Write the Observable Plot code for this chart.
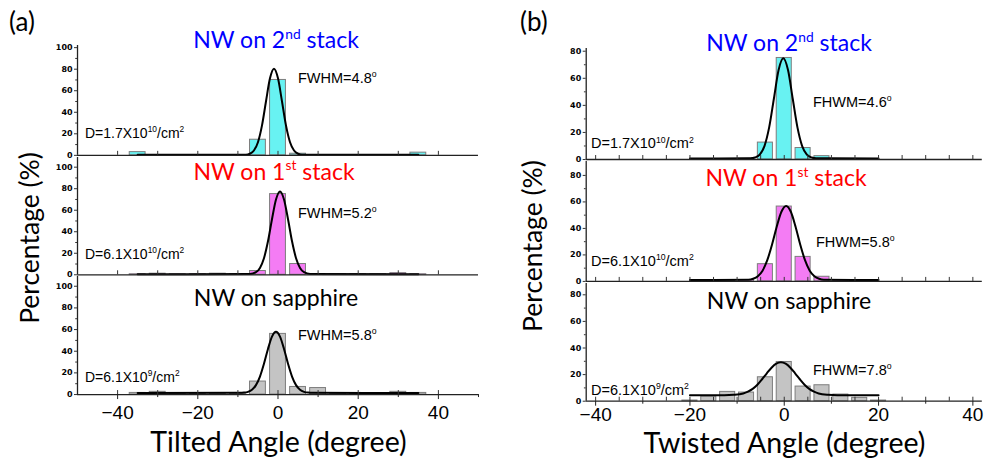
<!DOCTYPE html>
<html><head><meta charset="utf-8">
<script src="https://cdn.jsdelivr.net/npm/d3@7"></script>
<script src="https://cdn.jsdelivr.net/npm/@observablehq/plot@0.6"></script>
<style>
html,body{margin:0;padding:0;background:#fff;}
#chart{position:relative;width:984px;height:471px;overflow:hidden;background:#fff;}
</style></head><body><div id="chart"></div>
<script>
// ---------- data: tilted angle histograms (panel a), bins of 5 degrees ----------
const tiltCenters   = [-35,-30,-25,-20,-15,-10,-5,0,5,10,15,20,25,30,35];
const tilt2nd       = [3,0,0,0,0,0,14.5,70,1.5,0,0,0,0,0,2.5];
const tilt1st       = [0.5,1,0.5,0.5,1,0.5,3.5,75,10,0.5,0.5,0.5,0.5,1.5,0.5];
const tiltSapphire  = [1.5,2.5,1,1,1,1,12,56,7,6,1,1,1,2.5,1.5];

// ---------- data: twisted angle histograms (panel b), bins of 4 degrees ----------
const twistCenters  = [-20,-16,-12,-8,-4,0,4,8,12,16,20];
const twist2nd      = [0,0,0,0.5,12.5,75,8.5,2.5,0,0,0];
const twist1st      = [0,0.5,0.5,1,13,56.5,18.5,3.5,1,0.5,0];
const twistSapphire = [0.5,3.5,7,6.5,18,29.5,11,12,5,2.5,0.5];

// ---------- fitted curves ----------
const tiltFit2ndX = [-35,-8,-7,-6,-5,-4,-3,-2,-1,0,1,2,3,4,5,6,35];
const tiltFit2ndY = [0.5,0.6,1.5,4.5,12.2,27.6,50,71.5,80.5,71.5,50,27.6,12.2,4.5,1.5,0.6,0.5];
const tiltFit1stX = [-35,-7,-5.5,-4.5,-3.5,-2.5,-1.5,-0.5,0.5,1.5,2.5,3.5,4.5,5.5,6.5,8,35];
const tiltFit1stY = [0.5,0.8,2.4,6.4,15.4,31.1,51.6,70,77.5,70,51.6,31.1,15.4,6.4,2.4,0.8,0.5];
const tiltFitSapX = [-35,-9.5,-8.5,-7.5,-6.5,-5.5,-4.5,-3.5,-2.5,-1.5,-0.5,0.5,1.5,2.5,3.5,4.5,5.5,6.5,7.5,8.5,35];
const tiltFitSapY = [1.5,1.6,1.8,2.5,4.4,8.7,16.6,28.4,42.1,53.5,58,53.5,42.1,28.4,16.6,8.7,4.4,2.5,1.8,1.6,1.5];

const twistFit2ndX = [-20,-7.2,-6.2,-5.2,-4.2,-3.2,-2.2,-1.2,-0.2,0.8,1.8,2.8,3.8,4.8,5.8,6.8,20];
const twistFit2ndY = [0.8,0.9,1.5,3.6,9.9,23.7,44.9,66.1,74.8,66.1,44.9,23.7,9.9,3.6,1.5,0.9,0.8];
const twistFit1stX = [-20,-7.6,-6.6,-5.6,-4.6,-3.6,-2.6,-1.6,-0.6,0.4,1.4,2.4,3.4,4.4,5.4,6.4,7.4,8.4,20];
const twistFit1stY = [1,1.3,2,3.9,8.1,16,27.7,41.3,52.6,57,52.6,41.3,27.7,16,8.1,3.9,2,1.3,1];
const twistFitSapX = [-20,-12.7,-10.7,-8.7,-7.7,-6.7,-5.7,-4.7,-3.7,-2.7,-1.7,-0.7,0.3,1.3,2.3,3.3,4.3,5.3,6.3,7.3,9.3,11.3,20];
const twistFitSapY = [4.5,4.5,4.8,5.8,7.2,9.3,12.4,16.5,21,25.2,28.2,29.3,28.2,25.2,21,16.5,12.4,9.3,7.2,5.8,4.8,4.5,4.5];

// ---------- tick values ----------
const tiltXLabels = [-40,-20,0,20,40];
const tiltXMinor  = [-30,-10,10,30,50];
const tiltXInner  = [-40,-30,-20,-10,0,10,20,30,40];
const twistXLabels = [-40,-20,0,20,40];
const twistXMinor  = [-30,-10,10,30];
const twistXInner  = [-40,-35,-30,-25,-20,-15,-10,-5,0,5,10,15,20,25,30,35,40];
const tiltYMajor = [0,20,40,60,80,100];
const tiltYMinor = [10,30,50,70,90];
const twistYMajor = [0,20,40,60,80];
const twistYMinor = [10,30,50,70];

const zip = (xs, ys) => xs.map((x, i) => ({x, v: ys[i]}));
const zipFit = (xs, ys) => xs.map((x, i) => ({x, y: ys[i]}));

const chart = document.getElementById("chart");
const ARIAL = "'Liberation Sans', Arial, sans-serif";

function subplot(cfg) {
  const mT = 8, mB = cfg.bottomAxis ? 45 : 4;
  const frameH = cfg.yMax * cfg.ppu;
  const height = mT + frameH + mB;
  const top = cfg.zeroY - frameH - mT;
  const half = cfg.barHalf, inset = cfg.inset;
  const marks = [
    Plot.rect(cfg.bars, {x1: d => d.x - half, x2: d => d.x + half, y1: 0, y2: "v",
      fill: cfg.fill, stroke: "#7d7d7d", strokeWidth: 1, insetLeft: inset, insetRight: inset}),
    Plot.line(cfg.fit, {x: "x", y: "y", stroke: "#000", strokeWidth: 2, curve: "monotone-x"}),
    Plot.ruleX(cfg.innerTicks, {stroke: "#333", strokeWidth: 1, insetTop: frameH - 4}),
    Plot.ruleY([0], {stroke: "#222", strokeWidth: 1.3}),
    Plot.ruleX([cfg.xDomain[0]], {stroke: "#222", strokeWidth: 1.3}),
    Plot.axisY({ticks: cfg.yMajor, tickSize: 3, tickPadding: 2, fontSize: 8, fontWeight: "bold",
      fontFamily: "'DejaVu Sans', sans-serif", label: null, stroke: "#333"}),
    Plot.axisY({ticks: cfg.yMinor, tickSize: 1.8, tickFormat: () => "", label: null, stroke: "#333"})
  ];
  if (cfg.bottomAxis) {
    marks.push(Plot.axisX({ticks: cfg.xLabels, tickSize: 5, tickPadding: cfg.xPad, fontSize: 19,
      fontFamily: ARIAL, label: null, stroke: "#222"}));
    marks.push(Plot.axisX({ticks: cfg.xMinor, tickSize: 3, tickFormat: () => "", label: null, stroke: "#222"}));
  }
  const svg = Plot.plot({
    width: cfg.width, height,
    marginLeft: cfg.mL, marginRight: cfg.mR, marginTop: mT, marginBottom: mB,
    x: cfg.bottomAxis ? {domain: cfg.xDomain} : {domain: cfg.xDomain, axis: null},
    y: {domain: [0, cfg.yMax]},
    style: {background: "transparent", overflow: "visible", fontFamily: ARIAL, color: "#000"},
    marks
  });
  svg.style.position = "absolute";
  svg.style.left = cfg.left + "px";
  svg.style.top = top + "px";
  chart.append(svg);
}

const A = {left: 0, width: 490, mL: 77, mR: 12, xDomain: [-50, 50], barHalf: 2.5, inset: 2.1, xPad: 6,
  innerTicks: tiltXInner, xLabels: tiltXLabels, xMinor: tiltXMinor, yMajor: tiltYMajor, yMinor: tiltYMinor};
const B = {left: 490, width: 494, mL: 95.7, mR: 2.2, xDomain: [-42, 42], barHalf: 2, inset: 1.9, xPad: 1,
  innerTicks: twistXInner, xLabels: twistXLabels, xMinor: twistXMinor, yMajor: twistYMajor, yMinor: twistYMinor};

const CYAN = "#68f2f2", MAGENTA = "#f47cf4", GRAY = "#c4c4c4";

subplot({...A, zeroY: 155,   ppu: 1.077, yMax: 102, fill: CYAN,    bars: zip(tiltCenters, tilt2nd),      fit: zipFit(tiltFit2ndX, tiltFit2ndY)});
subplot({...A, zeroY: 274.3, ppu: 1.076, yMax: 109, fill: MAGENTA, bars: zip(tiltCenters, tilt1st),      fit: zipFit(tiltFit1stX, tiltFit1stY)});
subplot({...A, zeroY: 394.3, ppu: 1.083, yMax: 109, fill: GRAY,    bars: zip(tiltCenters, tiltSapphire), fit: zipFit(tiltFitSapX, tiltFitSapY), bottomAxis: true});
subplot({...B, zeroY: 159,   ppu: 1.354, yMax: 82,  fill: CYAN,    bars: zip(twistCenters, twist2nd),      fit: zipFit(twistFit2ndX, twistFit2ndY)});
subplot({...B, zeroY: 281,   ppu: 1.325, yMax: 90.5, fill: MAGENTA, bars: zip(twistCenters, twist1st),     fit: zipFit(twistFit1stX, twistFit1stY)});
subplot({...B, zeroY: 400.7, ppu: 1.33,  yMax: 88.5, fill: GRAY,    bars: zip(twistCenters, twistSapphire), fit: zipFit(twistFitSapX, twistFitSapY), bottomAxis: true});

// ---------- text overlay ----------
const over = d3.select(chart).append("svg")
  .attr("width", 984).attr("height", 471)
  .style("position", "absolute").style("left", "0px").style("top", "0px")
  .style("overflow", "visible");

function rich(x, y, segs, o) {
  const t = over.append("text").attr("x", x).attr("y", y)
    .attr("font-size", o.size).attr("font-family", o.family || ARIAL)
    .attr("fill", o.fill || "#000").attr("text-anchor", o.anchor || "start");
  if (o.rotate) t.attr("transform", `rotate(-90 ${x} ${y})`);
  let shift = 0;
  for (const s of segs) {
    const sup = Array.isArray(s);
    const txt = sup ? s[0] : s;
    const target = sup ? -o.size * 0.4 : 0;
    const ts = t.append("tspan").text(txt).attr("dy", target - shift);
    if (sup) ts.attr("font-size", o.size * 0.6);
    shift = target;
  }
  return t;
}
const LATO = "Lato, 'Open Sans', sans-serif";

rich(9, 31, ["(a)"], {size: 26, family: LATO});
rich(520, 31, ["(b)"], {size: 26, family: LATO});

rich(276, 48.3, ["NW on 2", ["nd"], " stack"], {size: 23, family: LATO, fill: "#0000ff", anchor: "middle"});
rich(274, 179.5, ["NW on 1", ["st"], " stack"], {size: 23, family: LATO, fill: "#ff0000", anchor: "middle"});
rich(276, 306, ["NW on sapphire"], {size: 23, family: LATO, anchor: "middle"});
rich(789, 51, ["NW on 2", ["nd"], " stack"], {size: 23, family: LATO, fill: "#0000ff", anchor: "middle"});
rich(786, 186, ["NW on 1", ["st"], " stack"], {size: 23, family: LATO, fill: "#ff0000", anchor: "middle"});
rich(789, 309, ["NW on sapphire"], {size: 23, family: LATO, anchor: "middle"});

rich(298, 83, ["FWHM=4.8", ["o"]], {size: 14.5});
rich(298, 217.5, ["FWHM=5.2", ["o"]], {size: 14.5});
rich(298, 340, ["FWHM=5.8", ["o"]], {size: 14.5});
rich(85, 138, ["D=1.7X10", ["10"], "/cm", ["2"]], {size: 14});
rich(85, 259, ["D=6.1X10", ["10"], "/cm", ["2"]], {size: 14});
rich(85, 381.5, ["D=6.1X10", ["9"], "/cm", ["2"]], {size: 14});

rich(813, 106.5, ["FHWM=4.6", ["o"]], {size: 14.5});
rich(816, 247, ["FHWM=5.8", ["o"]], {size: 14.5});
rich(813, 375, ["FHWM=7.8", ["o"]], {size: 14.5});
rich(591, 148.3, ["D=1.7X10", ["10"], "/cm", ["2"]], {size: 14.5});
rich(591, 266, ["D=6.1X10", ["10"], "/cm", ["2"]], {size: 14.5});
rich(591, 395, ["D=6.1X10", ["9"], "/cm", ["2"]], {size: 14.5});

rich(278.5, 452, ["Tilted Angle (degree)"], {size: 28.5, family: LATO, anchor: "middle"});
rich(784.5, 453, ["Twisted Angle (degree)"], {size: 28.5, family: LATO, anchor: "middle"});
rich(38.5, 238, ["Percentage (%)"], {size: 26.5, family: LATO, anchor: "middle", rotate: true});
rich(541.5, 246, ["Percentage (%)"], {size: 26.5, family: LATO, anchor: "middle", rotate: true});
</script>
</body></html>
